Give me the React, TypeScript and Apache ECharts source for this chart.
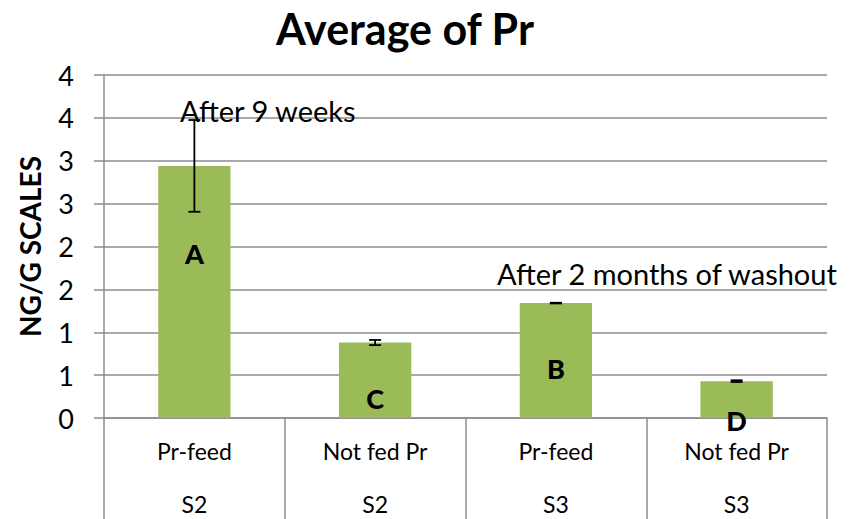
import React, { useEffect, useRef } from "react";
import * as echarts from "echarts";

const categories = ["Pr-feed", "Not fed Pr", "Pr-feed", "Not fed Pr"];
const groups = ["S2", "S2", "S3", "S3"];
const means = [2.94, 0.88, 1.34, 0.43];
const errors = [0.535, 0.03, 0.004, 0.01];
const letters = ["A", "C", "B", "D"];
const letterValues = [1.92, 0.23, 0.58, -0.03];
const yTickLabels = ["0", "1", "1", "2", "2", "3", "3", "4", "4"];

const FONT = "Lato, 'Open Sans', sans-serif";
const GRAY = "#8c8c8c";

export default function App() {
  const ref = useRef<HTMLDivElement>(null);
  useEffect(() => {
    if (!ref.current) return;
    const chart = echarts.init(ref.current, undefined, { renderer: "svg" });
    const errData = means.map((m, i) => [i, m - errors[i], m + errors[i]]);
    chart.setOption({
      animation: false,
      backgroundColor: "#ffffff",
      textStyle: { fontFamily: FONT },
      title: {
        text: "Average of Pr",
        left: 400,
        top: 2,
        textAlign: "center",
        textStyle: { fontFamily: FONT, fontWeight: "bold", fontSize: 43, color: "#000" },
      },
      grid: { left: 104, right: 37, top: 75, bottom: 101 },
      xAxis: [
        {
          type: "category",
          data: categories,
          position: "bottom",
          axisLine: { show: true, lineStyle: { color: GRAY, width: 1.5 } },
          axisTick: { show: true, interval: 0, length: 110, lineStyle: { color: GRAY, width: 1.5 } },
          axisLabel: { interval: 0, margin: 21, fontSize: 23, color: "#000", fontFamily: FONT },
          splitLine: { show: false },
        },
        {
          type: "category",
          data: groups,
          position: "bottom",
          axisLine: { show: false },
          axisTick: { show: false },
          axisLabel: { interval: 0, margin: 74, fontSize: 23, color: "#000", fontFamily: FONT },
          splitLine: { show: false },
        },
      ],
      yAxis: {
        type: "value",
        min: 0,
        max: 4,
        interval: 0.5,
        name: "NG/G SCALES",
        nameLocation: "middle",
        nameGap: 60,
        nameTextStyle: { fontFamily: FONT, fontWeight: "bold", fontSize: 28, color: "#000" },
        axisLine: { show: true, lineStyle: { color: GRAY, width: 1.5 } },
        axisTick: { show: true, length: 10, lineStyle: { color: GRAY, width: 1.5 } },
        axisLabel: {
          margin: 30,
          fontSize: 27,
          color: "#000",
          fontFamily: FONT,
          formatter: (v: number) => yTickLabels[Math.round(v / 0.5)] ?? "",
        },
        splitLine: { show: true, lineStyle: { color: GRAY, width: 1.5 } },
      },
      graphic: [
        {
          type: "text",
          left: 180,
          top: 96,
          z: 10,
          style: { text: "After 9 weeks", fontSize: 29, fontFamily: FONT, fill: "#000" },
        },
        {
          type: "text",
          left: 497,
          top: 259,
          z: 10,
          style: { text: "After 2 months of washout", fontSize: 29, fontFamily: FONT, fill: "#000" },
        },
      ],
      series: [
        {
          type: "bar",
          data: means,
          barWidth: "40%",
          itemStyle: { color: "#9BBB59" },
          z: 2,
        },
        {
          type: "custom",
          data: errData,
          z: 5,
          renderItem: (params: any, api: any) => {
            const i = api.value(0);
            const lo = api.coord([i, api.value(1)]);
            const hi = api.coord([i, api.value(2)]);
            const x = lo[0];
            const hw = 6;
            const style = { stroke: "#000", lineWidth: 1.8 };
            return {
              type: "group",
              children: [
                { type: "line", shape: { x1: x, y1: lo[1], x2: x, y2: hi[1] }, style },
                { type: "line", shape: { x1: x - hw, y1: lo[1], x2: x + hw, y2: lo[1] }, style },
                { type: "line", shape: { x1: x - hw, y1: hi[1], x2: x + hw, y2: hi[1] }, style },
              ],
            };
          },
        },
        {
          type: "scatter",
          data: letterValues.map((v, i) => [i, v]),
          symbol: "circle",
          symbolSize: 1,
          itemStyle: { color: "rgba(0,0,0,0)" },
          clip: false,
          silent: true,
          z: 6,
          label: {
            show: true,
            position: "inside",
            formatter: (p: any) => letters[p.dataIndex],
            fontFamily: FONT,
            fontWeight: 900,
            fontSize: 27,
            color: "#000",
            opacity: 1,
            textBorderWidth: 0,
          },
        },
      ],
    });
    return () => chart.dispose();
  }, []);
  return (
    <div
      ref={ref}
      style={{ position: "fixed", left: 0, top: 0, width: 864, height: 519, background: "#fff" }}
    />
  );
}
